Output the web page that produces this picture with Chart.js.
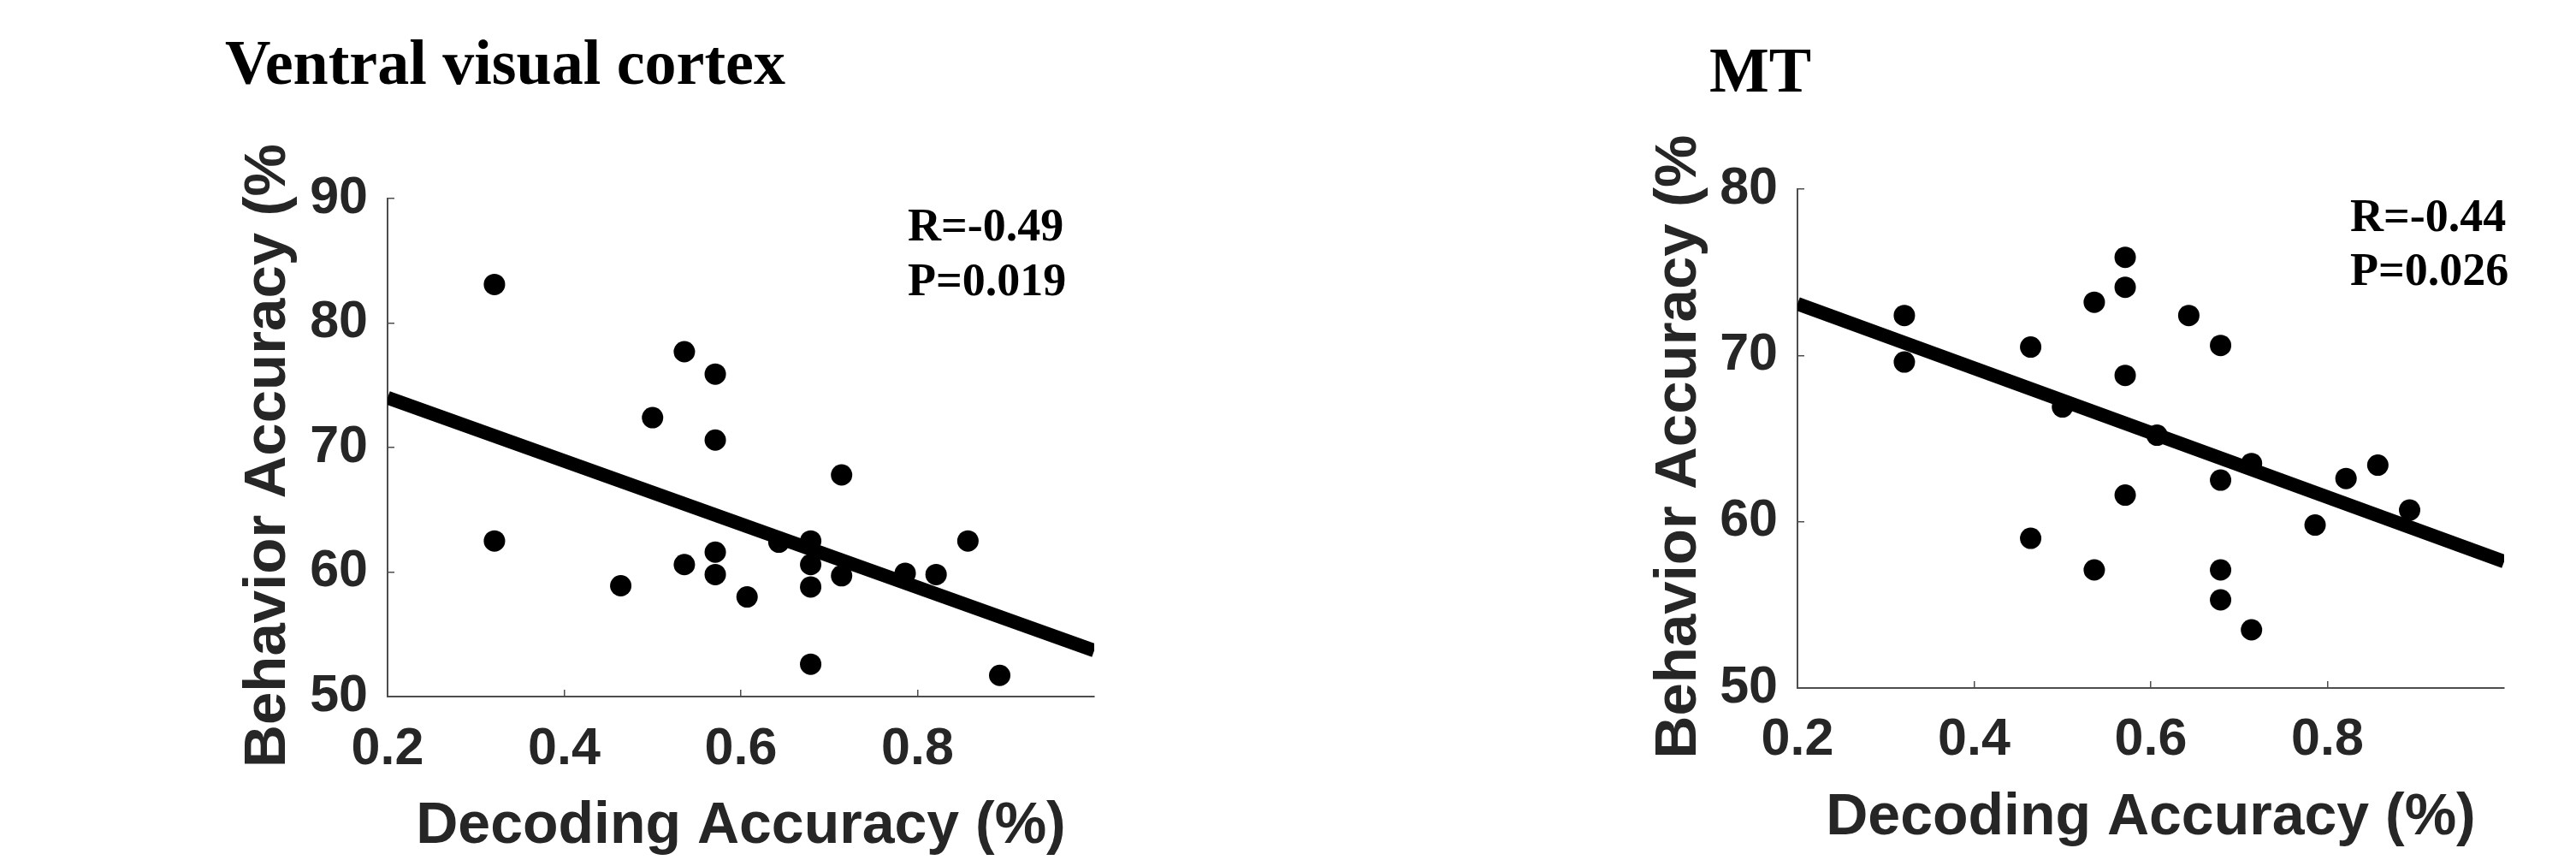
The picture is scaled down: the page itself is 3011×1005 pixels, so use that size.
<!DOCTYPE html>
<html>
<head>
<meta charset="utf-8">
<script src="https://cdn.jsdelivr.net/npm/chart.js@4.4.1/dist/chart.umd.min.js"></script>
<style>
    body { margin: 0; background: #ffffff; width: 3011px; height: 1005px; overflow: hidden; position: relative; }
    canvas { position: absolute; top: 0; }
    #ventralGraph { left: 0; width: 1505px; height: 1005px; }
    #mtGraph { left: 1505px; width: 1506px; height: 1005px; }
</style>
</head>
<body>
<canvas id="ventralGraph" width="1505" height="1005"></canvas>
<canvas id="mtGraph" width="1506" height="1005"></canvas>
<script>
// values
var ventralX = [0.321, 0.321, 0.536, 0.571, 0.5, 0.571, 0.714, 0.643, 0.679, 0.679, 0.679, 0.714, 0.571, 0.571, 0.536, 0.464, 0.607, 0.786, 0.821, 0.857, 0.679, 0.893];
var ventralY = [83.1, 62.5, 77.7, 75.9, 72.4, 70.6, 67.8, 62.4, 62.5, 60.6, 58.8, 59.7, 61.6, 59.8, 60.6, 58.9, 58.0, 59.9, 59.8, 62.5, 52.6, 51.7];
var mtX = [0.321, 0.321, 0.464, 0.464, 0.5, 0.536, 0.536, 0.571, 0.571, 0.571, 0.571, 0.607, 0.643, 0.679, 0.679, 0.679, 0.679, 0.714, 0.714, 0.786, 0.821, 0.857, 0.893];
var mtY = [72.4, 69.6, 70.5, 59.0, 66.9, 73.2, 57.1, 75.9, 74.1, 68.8, 61.6, 65.2, 72.4, 70.6, 62.5, 57.1, 55.3, 63.5, 53.5, 59.8, 62.6, 63.4, 60.7];

// regression line end points
var fitX = [0.2, 1.0];
var ventralFitY = [74.0, 53.7];
var mtFitY = [73.1, 57.6];

var xTicks = [0.2, 0.4, 0.6, 0.8];
var ventralYTicks = [50, 60, 70, 80, 90];
var mtYTicks = [50, 60, 70, 80];

var ventralStats = ["R=-0.49", "P=0.019"];
var mtStats = ["R=-0.44", "P=0.026"];

var xTitle = "Decoding Accuracy (%)";
// the top of the label is cut off in the figure; trailing space nudges it down a bit
var yTitle = "Behavior Accuracy (% ";

var axisColor = "#4d4d4d";
var labelColor = "#262626";
var sansFamily = "'Liberation Sans', Arial, sans-serif";
var serifFamily = "'Liberation Serif', 'Times New Roman', serif";

var ventralGraph;
var mtGraph;

// titles and R/P text, drawn on top of the chart
var figureTextPlugin = {
    id: "figureText",
    afterDraw(chart, args, opts) {
        var ctx = chart.ctx;
        ctx.save();
        ctx.fillStyle = "#000000";
        ctx.textAlign = "left";
        ctx.textBaseline = "alphabetic";
        ctx.font = "bold 74px " + serifFamily;
        ctx.fillText(opts.title, opts.titleX, opts.titleY);
        ctx.font = "bold 54px " + serifFamily;
        opts.stats.forEach((line, i) => {
            ctx.fillText(line, opts.statsX, opts.statsY[i]);
        });
        ctx.restore();
    },
};

function get_scatter_config(xs, ys, fitY, yTicks, box, text) {
    var points = xs.map((x, i) => ({ x: x, y: ys[i] }));
    var fitLine = fitX.map((x, i) => ({ x: x, y: fitY[i] }));
    return {
        type: "scatter",
        data: {
            datasets: [
                {
                    type: "line",
                    data: fitLine,
                    borderColor: "#000000",
                    borderWidth: 16,
                    borderCapStyle: "butt",
                    pointRadius: 0,
                    fill: false,
                    order: 0,
                },
                {
                    data: points,
                    backgroundColor: "#000000",
                    borderWidth: 0,
                    pointRadius: 12.5,
                    order: 1,
                },
            ],
        },
        options: {
            responsive: false,
            animation: false,
            devicePixelRatio: 1,
            layout: {
                padding: { left: 0, top: box.top, right: box.right, bottom: 0 },
            },
            plugins: {
                legend: { display: false },
                tooltip: { enabled: false },
                figureText: text,
            },
            scales: {
                x: {
                    type: "linear",
                    min: 0.2,
                    max: 1.0,
                    afterBuildTicks: (axis) => {
                        axis.ticks = xTicks.map((v) => ({ value: v }));
                    },
                    afterFit: (axis) => {
                        axis.height = box.xHeight;
                    },
                    ticks: {
                        color: labelColor,
                        font: { family: sansFamily, size: 61, weight: "bold" },
                        padding: box.xTickPad,
                        autoSkip: false,
                        maxRotation: 0,
                        callback: (value) => value.toFixed(1),
                    },
                    grid: { drawOnChartArea: false, tickLength: -8, color: axisColor, lineWidth: 1.5 },
                    border: { color: axisColor, width: 2 },
                    title: {
                        display: true,
                        text: xTitle,
                        color: labelColor,
                        font: { family: sansFamily, size: 68, weight: "bold", lineHeight: 1.1 },
                        padding: { top: 0, bottom: box.xTitlePad },
                    },
                },
                y: {
                    type: "linear",
                    min: yTicks[0],
                    max: yTicks[yTicks.length - 1],
                    afterBuildTicks: (axis) => {
                        axis.ticks = yTicks.map((v) => ({ value: v }));
                    },
                    afterFit: (axis) => {
                        axis.width = box.yWidth;
                    },
                    ticks: {
                        color: labelColor,
                        font: { family: sansFamily, size: 61, weight: "bold" },
                        padding: 31,
                        autoSkip: false,
                        callback: (value) => String(value),
                    },
                    grid: { drawOnChartArea: false, tickLength: -8, color: axisColor, lineWidth: 1.5 },
                    border: { color: axisColor, width: 2 },
                    title: {
                        display: true,
                        text: yTitle,
                        color: labelColor,
                        font: { family: sansFamily, size: 69, weight: "bold", lineHeight: 1.1 },
                        padding: { top: box.yTitlePad, bottom: 0 },
                    },
                },
            },
        },
        plugins: [figureTextPlugin],
    };
}

function create_ventral_graph() {
    if (ventralGraph) {
        ventralGraph.destroy();
    }
    var box = { top: 232, right: 226, yWidth: 453, xHeight: 191, xTickPad: 34, xTitlePad: 1, yTitlePad: 276 };
    var text = { title: "Ventral visual cortex", titleX: 263, titleY: 98, stats: ventralStats, statsX: 1061, statsY: [281, 345] };
    var config = get_scatter_config(ventralX, ventralY, ventralFitY, ventralYTicks, box, text);
    ventralGraph = new Chart("ventralGraph", config);
}

function create_mt_graph() {
    if (mtGraph) {
        mtGraph.destroy();
    }
    var box = { top: 221, right: 84, yWidth: 596, xHeight: 201, xTickPad: 33, xTitlePad: 11, yTitlePad: 420 };
    var text = { title: "MT", titleX: 493, titleY: 107, stats: mtStats, statsX: 1242, statsY: [270, 333] };
    var config = get_scatter_config(mtX, mtY, mtFitY, mtYTicks, box, text);
    mtGraph = new Chart("mtGraph", config);
}

create_ventral_graph();
create_mt_graph();
</script>
</body>
</html>
